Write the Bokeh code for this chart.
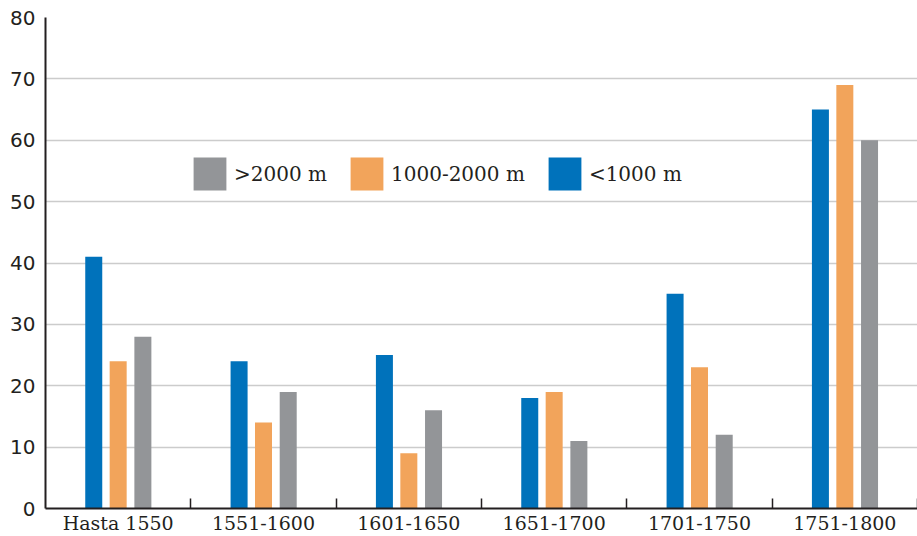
from bokeh.plotting import figure
from bokeh.models import ColumnDataSource, Range1d, FixedTicker, Legend, LegendItem
from bokeh.embed import file_html
from bokeh.resources import INLINE

# ---- data ----
categories = ["Hasta 1550", "1551-1600", "1601-1650", "1651-1700", "1701-1750", "1751-1800"]
below_1000 = [41, 24, 25, 18, 35, 65]
mid_1000_2000 = [24, 14, 9, 19, 23, 69]
above_2000 = [28, 19, 16, 11, 12, 60]
series_labels = ["<1000 m", "1000-2000 m", ">2000 m"]
y_ticks = [0, 10, 20, 30, 40, 50, 60, 70, 80]

colors = ["#0072BB", "#F2A45B", "#939598"]
offsets = [-0.168, 0.0, 0.170]
bar_w = 0.117

centers = [i + 0.5 for i in range(len(categories))]
boundaries = [i + 1 for i in range(len(categories))]

p = figure(width=917, height=536, output_backend="svg", toolbar_location=None,
           x_range=Range1d(0, len(categories)), y_range=Range1d(0, 80),
           min_border_left=45, min_border_right=0, min_border_top=17, min_border_bottom=0)
p.outline_line_color = None
p.background_fill_color = "white"
p.border_fill_color = "white"

renderers = []
for vals, col, off in zip([below_1000, mid_1000_2000, above_2000], colors, offsets):
    src = ColumnDataSource(dict(x=[c + off for c in centers], top=vals))
    r = p.vbar(x="x", top="top", bottom=0, width=bar_w, source=src,
               fill_color=col, line_color=None)
    renderers.append(r)

# grid
p.xgrid.grid_line_color = None
p.ygrid.grid_line_color = "#cccccc"
p.ygrid.grid_line_width = 1.5
p.ygrid.ticker = FixedTicker(ticks=y_ticks)

# y axis
p.yaxis.ticker = FixedTicker(ticks=y_ticks)
p.yaxis.axis_line_color = "#231f20"
p.yaxis.axis_line_width = 2
p.yaxis.major_tick_line_color = None
p.yaxis.minor_tick_line_color = None
p.yaxis.major_tick_in = 0
p.yaxis.major_tick_out = 0
p.yaxis.minor_tick_in = 0
p.yaxis.minor_tick_out = 0
p.yaxis.axis_label_standoff = 0
p.yaxis.major_label_text_font = "DejaVu Sans"
p.yaxis.major_label_text_font_size = "20px"
p.yaxis.major_label_text_color = "#231f20"
p.yaxis.major_label_standoff = 10

# x axis
p.xaxis.ticker = FixedTicker(ticks=centers, minor_ticks=boundaries)
p.xaxis.major_label_overrides = {c: lab for c, lab in zip(centers, categories)}
p.xaxis.axis_line_color = "#231f20"
p.xaxis.axis_line_width = 2
p.xaxis.major_tick_line_color = None
p.xaxis.major_tick_in = 0
p.xaxis.major_tick_out = 0
p.xaxis.minor_tick_line_color = "#231f20"
p.xaxis.minor_tick_line_width = 1.5
p.xaxis.minor_tick_in = 10
p.xaxis.minor_tick_out = 0
p.xaxis.axis_label_standoff = 0
p.xaxis.major_label_text_font = "DejaVu Serif"
p.xaxis.major_label_text_font_size = "19px"
p.xaxis.major_label_text_color = "#231f20"
p.xaxis.major_label_standoff = 3

# legend (order: gray, orange, blue)
items = [LegendItem(label=series_labels[i], renderers=[renderers[i]]) for i in [2, 1, 0]]
legend = Legend(items=items, orientation="horizontal", location=(144, 314),
                glyph_width=41, glyph_height=41, label_standoff=4, spacing=19,
                padding=0, margin=0, border_line_color=None, background_fill_alpha=0,
                label_text_font="DejaVu Serif", label_text_font_size="20px",
                label_text_color="#231f20")
p.add_layout(legend, "center")

open("out.html", "w").write(file_html(p, INLINE))
